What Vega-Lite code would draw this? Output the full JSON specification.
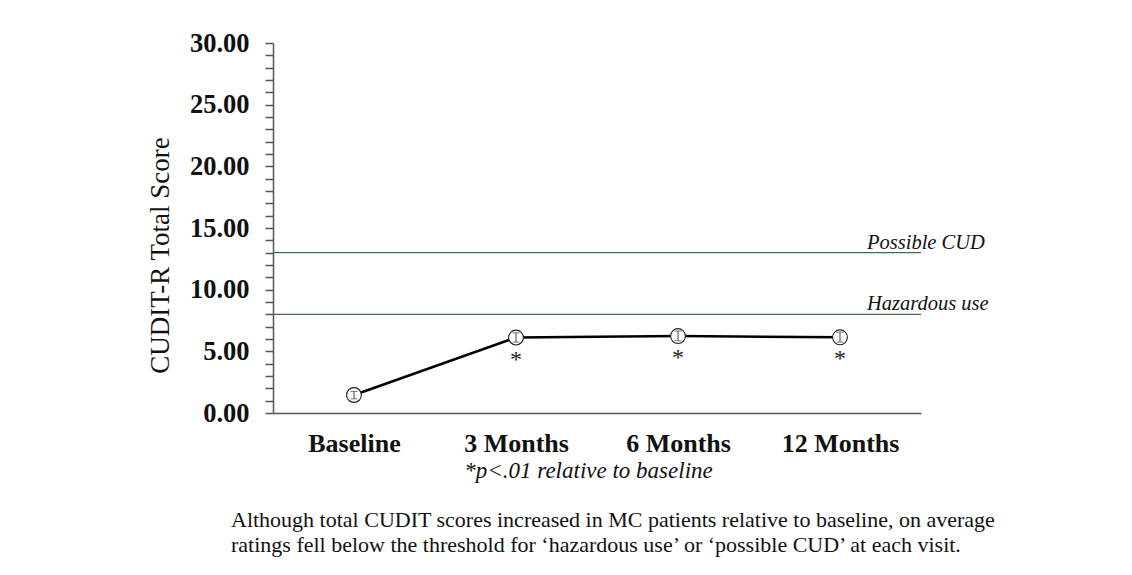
{
  "$schema": "https://vega.github.io/schema/vega-lite/v6.json",
  "width": 648,
  "height": 370,
  "autosize": {"type": "none"},
  "padding": {"left": 273, "top": 43, "right": 211, "bottom": 162},
  "background": "white",
  "config": {
    "view": {"stroke": null},
    "font": "Liberation Serif"
  },
  "title": {
    "text": ["Although total CUDIT scores increased in MC patients relative to baseline, on average", "ratings fell below the threshold for  ‘hazardous use’ or ‘possible CUD’ at each visit."],
    "orient": "bottom",
    "anchor": "start",
    "frame": "group",
    "dx": -42,
    "offset": 28,
    "font": "Liberation Serif",
    "fontSize": 22,
    "fontWeight": "normal",
    "color": "#111",
    "lineHeight": 25
  },
  "datasets": {
    "scores": [
      {"visit": "Baseline", "score": 1.46, "lo": 1.15, "hi": 1.75, "sig": ""},
      {"visit": "3 Months", "score": 6.12, "lo": 5.75, "hi": 6.5, "sig": "*"},
      {"visit": "6 Months", "score": 6.24, "lo": 5.85, "hi": 6.65, "sig": "*"},
      {"visit": "12 Months", "score": 6.14, "lo": 5.75, "hi": 6.55, "sig": "*"}
    ],
    "thresholds": [
      {"label": "Possible CUD", "score": 13},
      {"label": "Hazardous use", "score": 8}
    ]
  },
  "encoding": {
    "x": {
      "field": "visit",
      "type": "nominal",
      "sort": ["Baseline", "3 Months", "6 Months", "12 Months"],
      "scale": {"type": "point", "padding": 0.5, "domain": ["Baseline", "3 Months", "6 Months", "12 Months"]},
      "axis": {
        "title": "*p<.01 relative to baseline",
        "titleFont": "Liberation Serif",
        "titleFontStyle": "italic",
        "titleFontWeight": "normal",
        "titleFontSize": 23,
        "titleColor": "#111",
        "titlePadding": 3,
        "titleX": 315,
        "labelFont": "Liberation Serif",
        "labelFontWeight": "bold",
        "labelFontSize": 26,
        "labelColor": "#111",
        "labelAngle": 0,
        "labelPadding": 17,
        "ticks": false,
        "domainColor": "#555",
        "domainWidth": 1.5,
        "grid": false
      }
    },
    "y": {
      "field": "score",
      "type": "quantitative",
      "scale": {"domain": [0, 30], "nice": false},
      "axis": {
        "title": "CUDIT-R Total Score",
        "titleFont": "Liberation Serif",
        "titleFontWeight": "normal",
        "titleFontSize": 27,
        "titleColor": "#111",
        "titlePadding": 15,
        "titleY": 212,
        "values": [0,1,2,3,4,5,6,7,8,9,10,11,12,13,14,15,16,17,18,19,20,21,22,23,24,25,26,27,28,29,30],
        "labelExpr": "datum.value % 5 === 0 ? format(datum.value, '.2f') : ''",
        "labelOverlap": false,
        "labelFont": "Liberation Serif",
        "labelFontWeight": "bold",
        "labelFontSize": 26.5,
        "labelColor": "#111",
        "labelPadding": 16,
        "tickSize": 8,
        "tickColor": "#555",
        "tickWidth": 1.5,
        "domainColor": "#555",
        "domainWidth": 1.5,
        "grid": false
      }
    }
  },
  "layer": [
    {
      "data": {"name": "thresholds"},
      "mark": {"type": "rule", "color": "#3f6f4f", "strokeWidth": 1.3},
      "encoding": {
        "x": null
      }
    },
    {
      "data": {"name": "thresholds"},
      "mark": {"type": "text", "align": "left", "baseline": "alphabetic", "dx": 27, "dy": -4, "fontStyle": "italic", "fontSize": 20.5, "font": "Liberation Serif", "color": "#111"},
      "encoding": {
        "x": {"datum": "12 Months"},
        "text": {"field": "label"}
      }
    },
    {
      "data": {"name": "scores"},
      "mark": {"type": "line", "color": "#000", "strokeWidth": 2.6}
    },
    {
      "data": {"name": "scores"},
      "mark": {"type": "point", "shape": "circle", "filled": true, "fill": "white", "stroke": "#222", "strokeWidth": 1.1, "size": 220, "opacity": 1}
    },
    {
      "data": {"name": "scores"},
      "mark": {"type": "errorbar", "ticks": {"size": 7, "color": "#444"}, "rule": {"color": "#444"}},
      "encoding": {
        "y": {
          "field": "lo",
          "type": "quantitative",
          "scale": {"domain": [0, 30], "nice": false},
          "axis": {
            "title": "CUDIT-R Total Score",
            "titleFont": "Liberation Serif",
            "titleFontWeight": "normal",
            "titleFontSize": 27,
            "titleColor": "#111",
            "titlePadding": 15,
            "titleY": 212,
            "values": [0,1,2,3,4,5,6,7,8,9,10,11,12,13,14,15,16,17,18,19,20,21,22,23,24,25,26,27,28,29,30],
            "labelExpr": "datum.value % 5 === 0 ? format(datum.value, '.2f') : ''",
            "labelOverlap": false,
            "labelFont": "Liberation Serif",
            "labelFontWeight": "bold",
            "labelFontSize": 26.5,
            "labelColor": "#111",
            "labelPadding": 16,
            "tickSize": 8,
            "tickColor": "#555",
            "tickWidth": 1.5,
            "domainColor": "#555",
            "domainWidth": 1.5,
            "grid": false
          }
        },
        "y2": {"field": "hi"}
      }
    },
    {
      "data": {"name": "scores"},
      "mark": {"type": "text", "baseline": "middle", "dy": 22, "fontSize": 24, "font": "Liberation Serif", "color": "#222"},
      "encoding": {
        "text": {"field": "sig"}
      }
    }
  ]
}
